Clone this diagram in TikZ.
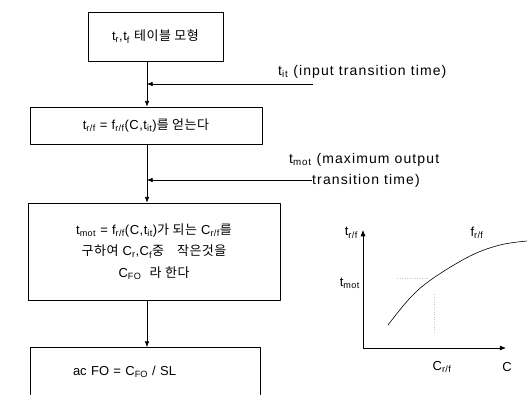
\documentclass[tikz,border=0pt]{standalone}
\usepackage{fontspec}
\setmainfont{Liberation Sans}
\newfontfamily\kr[LetterSpace=4]{Noto Sans CJK KR}
\newfontfamily\wide[LetterSpace=8]{Liberation Sans}
\newfontfamily\boxfont[LetterSpace=4]{Liberation Sans}
\usetikzlibrary{arrows.meta}
\newcommand{\lo}[1]{\textsubscript{#1}}

\begin{document}
\begin{tikzpicture}[
  x=1pt, y=-1pt,
  line join=round,
  box/.style={draw=black,line width=0.7pt,inner sep=0pt,align=center,
    font=\fontsize{13}{21.5}\boxfont},
  flow/.style={draw=black,line width=0.6pt,-{Latex[length=2mm,width=1.6mm]}},
  note/.style={inner sep=0pt,anchor=west,font=\fontsize{14}{16}\wide},
  graphaxis/.style={draw=black,line width=0.7pt,-{Latex[length=2.2mm,width=1.8mm]}},
  guide/.style={draw=black!22,dotted,line width=0.5pt},
  tag/.style={inner sep=0pt,font=\fontsize{13}{15}\boxfont}
]
  \useasboundingbox (0,0) rectangle (529,394);
  \clip (0,0) rectangle (529,394);

  % Flow chart boxes, top to bottom.
  \node[box,minimum width=135pt,minimum height=49pt] (tbl) at (155.5,36.5)
    {t\lo{r},t\lo{f} {\kr 테이블 모형}};
  \node[box,minimum width=232pt,minimum height=37pt] (getf) at (146,125.5)
    {t\lo{r/f} = f\lo{r/f}(C,t\lo{it}){\kr 를 얻는다}};
  \node[box,minimum width=252pt,minimum height=97pt] (cfo) at (154,251.5)
    {t\lo{mot} = f\lo{r/f}(C,t\lo{it}){\kr 가 되는} C\lo{r/f}{\kr 를}\\
     {\kr 구하여} C\lo{r},C\lo{f}{\kr 중}\quad{\kr 작은것을}\\
     C\lo{FO}\ \ {\kr 라 한다}};
  \node[box,anchor=north,minimum width=230pt,minimum height=70pt,
    font=\fontsize{13}{15}\selectfont,text width=230pt,align=left,
    text depth=24pt] (acfo) at (145,347)
    {\hspace*{43pt}ac FO = C\lo{FO} / SL};

  % Main spine
  \coordinate (spine) at (147,0);
  \draw[flow] (tbl.south -| spine) -- (getf.north -| spine);
  \draw[flow] (getf.south -| spine) -- (cfo.north -| spine);
  \draw[flow] (cfo.south -| spine) -- (acfo.north -| spine);

  % Side inputs
  \coordinate (itin) at (313,84);
  \coordinate (motin) at (312,180);
  \draw[flow] (itin) -- (itin -| spine);
  \draw[flow] (motin) -- (motin -| spine);
  \node[note] (itlbl) at (278,72) {t\lo{it} (input transition time)};
  \node[note] (motlbl) at (289,160) {t\lo{mot} (maximum output};
  \node[note] (motlbl2) at (312,181) {transition time)};

  % Small graph of f_r/f
  \coordinate (O) at (363,348);
  \coordinate (ytip) at (363,230);
  \coordinate (xtip) at (506,348);
  \draw[graphaxis] (O) -- (ytip);
  \draw[graphaxis] (O) -- (xtip);
  \draw[line width=0.6pt] plot[smooth,tension=0.6] coordinates
    {(388,325) (410,298) (432,279) (470,256) (500,245) (527,241)};
  \draw[guide] (397,278) -- (429,278);
  \draw[guide] (434,294) -- (434,334);
  \node[tag,anchor=east] (tlbl) at (358,233) {t\lo{r/f}};
  \node[tag,anchor=east] (tmotlbl) at (360,283) {t\lo{mot}};
  \node[tag] (flbl) at (477,233) {f\lo{r/f}};
  \node[tag] (clbl) at (442,367) {C\lo{r/f}};
  \node[tag] (cax) at (507,367) {C};
\end{tikzpicture}
\end{document}
